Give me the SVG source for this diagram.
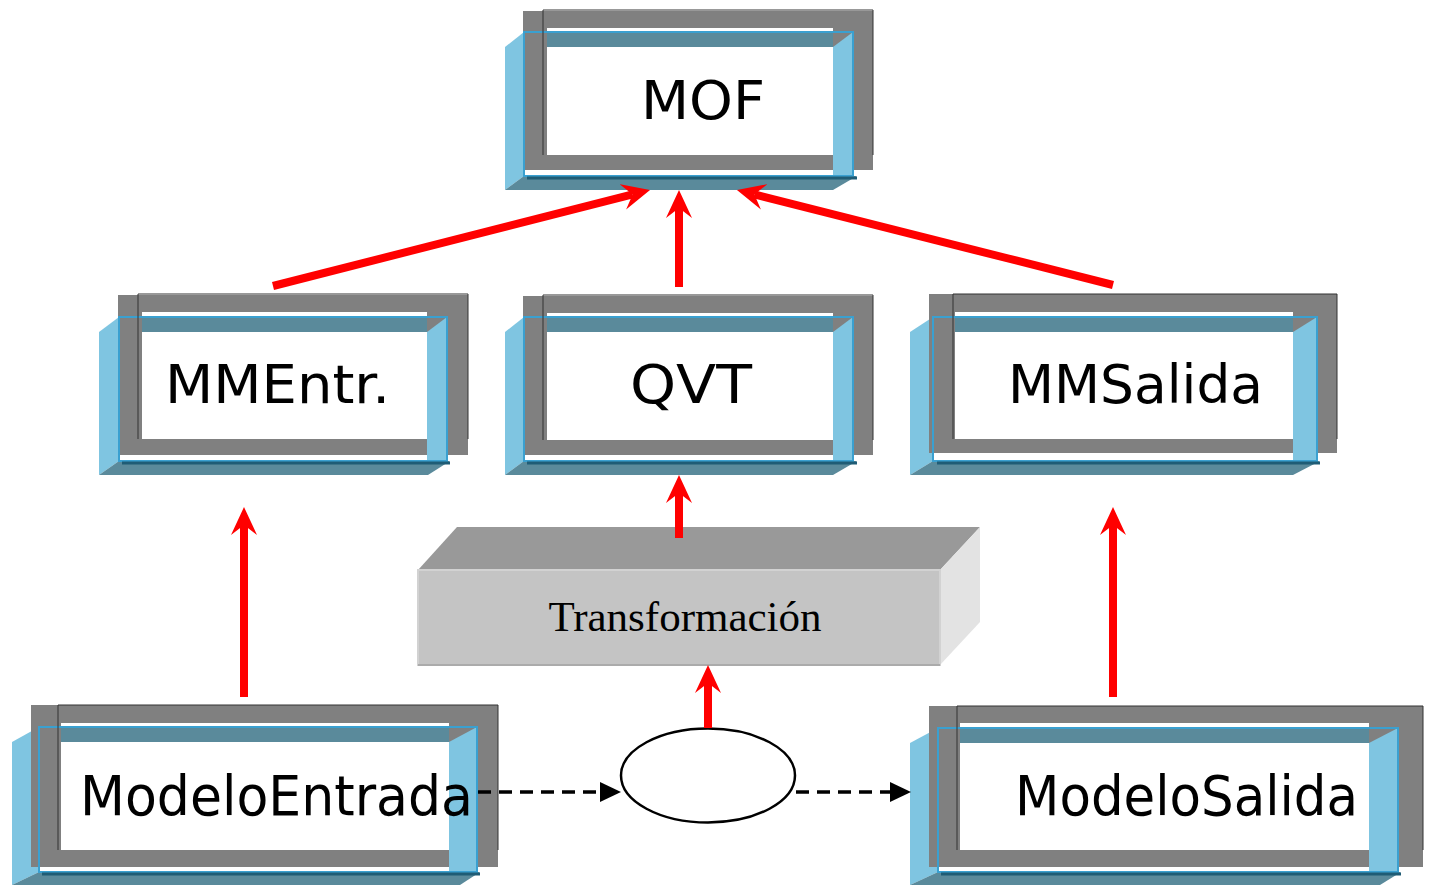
<svg xmlns="http://www.w3.org/2000/svg" width="1429" height="885" viewBox="0 0 1429 885">
<style>
.lb{fill:#7FC5E1}
.teal{fill:#5A8A9B}
.gray{fill:#808080;fill-rule:evenodd}
.bo{fill:none;stroke:#3AA0D0;stroke-width:2}
.dl{stroke:#1F5C75;stroke-width:3}
.thin{fill:none;stroke:#333;stroke-width:1}
.lbl{font-family:"DejaVu Sans","Liberation Sans",sans-serif;fill:#000}
.red{stroke:#FF0000;stroke-width:8;fill:none;marker-end:url(#ra)}
.dash{stroke:#000;stroke-width:3.5;stroke-dasharray:13 8;fill:none;marker-end:url(#ba)}
</style>
<defs>
<marker id="ra" markerUnits="userSpaceOnUse" viewBox="0 -14 30 28" markerWidth="30" markerHeight="28" refX="10" refY="0" orient="auto">
<path d="M0,-13 L28,0 L0,13 L10,0 Z" fill="#FF0000"/>
</marker>
<marker id="ba" markerUnits="userSpaceOnUse" viewBox="0 -11 22 22" markerWidth="22" markerHeight="22" refX="0" refY="0" orient="auto">
<path d="M0,-10 L21,0 L0,10 Z" fill="#000"/>
</marker>
</defs>
<rect width="1429" height="885" fill="#fff"/>

<g id="MOF">
<polygon class="lb" points="505,47 524,32 524,176 505,190"/>
<polygon class="teal" points="524,32 853,32 833,47 524,47"/>
<polygon class="teal" points="505,190 524,176 857,176 833,190"/>
<path class="gray" d="M523,11 H873 V170 H523 Z M547,28 V155 H833 V28 Z"/>
<polygon class="lb" points="833,47 853,32 853,176 833,176"/>
<rect class="bo" x="524" y="32" width="329" height="144"/>
<line class="dl" x1="527" y1="178" x2="857" y2="178"/>
<path class="thin" d="M543,155 V10 H873 V155"/>
<text class="lbl" x="641" y="119" font-size="54" textLength="124" lengthAdjust="spacingAndGlyphs">MOF</text>
</g>

<g id="MMEntr">
<polygon class="lb" points="99,332 119,317 119,461 99,475"/>
<polygon class="teal" points="119,317 447,317 427,332 119,332"/>
<polygon class="teal" points="99,475 119,461 450,461 428,475"/>
<path class="gray" d="M118,295 H468 V455 H118 Z M142,312 V439 H427 V312 Z"/>
<polygon class="lb" points="427,332 447,317 447,461 427,461"/>
<rect class="bo" x="119" y="317" width="328" height="144"/>
<line class="dl" x1="122" y1="463" x2="450" y2="463"/>
<path class="thin" d="M138,439 V294 H468 V439"/>
<text class="lbl" x="165" y="403" font-size="54" textLength="225" lengthAdjust="spacingAndGlyphs">MMEntr.</text>
</g>

<g id="QVT">
<polygon class="lb" points="505,332 524,317 524,461 505,475"/>
<polygon class="teal" points="524,317 853,317 833,332 524,332"/>
<polygon class="teal" points="505,475 524,461 857,461 833,475"/>
<path class="gray" d="M523,296 H873 V455 H523 Z M547,313 V440 H833 V313 Z"/>
<polygon class="lb" points="833,332 853,317 853,461 833,461"/>
<rect class="bo" x="524" y="317" width="329" height="144"/>
<line class="dl" x1="527" y1="463" x2="857" y2="463"/>
<path class="thin" d="M543,440 V295 H873 V440"/>
<text class="lbl" x="630" y="403" font-size="54" textLength="122" lengthAdjust="spacingAndGlyphs">QVT</text>
</g>

<g id="MMSalida">
<polygon class="lb" points="910,332 933,317 933,461 910,475"/>
<polygon class="teal" points="933,317 1317,317 1293,332 933,332"/>
<polygon class="teal" points="910,475 933,461 1320,461 1293,475"/>
<path class="gray" d="M929,294 H1337 V453 H929 Z M955,312 V439 H1293 V312 Z"/>
<polygon class="lb" points="1293,332 1317,317 1317,461 1293,461"/>
<rect class="bo" x="933" y="317" width="384" height="144"/>
<line class="dl" x1="937" y1="463" x2="1320" y2="463"/>
<path class="thin" d="M953,439 V294 H1337 V439"/>
<text class="lbl" x="1008" y="403" font-size="54" textLength="255" lengthAdjust="spacingAndGlyphs">MMSalida</text>
</g>

<g id="ModeloEntrada">
<polygon class="lb" points="12,742 39,727 39,872 12,885"/>
<polygon class="teal" points="39,727 477,727 449,742 39,742"/>
<polygon class="teal" points="12,885 39,872 480,872 460,885"/>
<path class="gray" d="M31,705 H498 V867 H31 Z M61,723 V850 H449 V723 Z"/>
<polygon class="lb" points="449,742 477,727 477,872 449,872"/>
<rect class="bo" x="39" y="727" width="438" height="145"/>
<line class="dl" x1="42" y1="874" x2="480" y2="874"/>
<path class="thin" d="M58,850 V705 H498 V850"/>
<text class="lbl" x="80" y="815" font-size="56" textLength="393" lengthAdjust="spacingAndGlyphs">ModeloEntrada</text>
</g>

<g id="ModeloSalida">
<polygon class="lb" points="910,743 938,728 938,872 910,885"/>
<polygon class="teal" points="938,728 1398,728 1369,743 938,743"/>
<polygon class="teal" points="910,885 938,872 1401,872 1380,885"/>
<path class="gray" d="M929,706 H1423 V867 H929 Z M960,723 V850 H1369 V723 Z"/>
<polygon class="lb" points="1369,743 1398,728 1398,872 1369,872"/>
<rect class="bo" x="938" y="728" width="460" height="144"/>
<line class="dl" x1="941" y1="874" x2="1401" y2="874"/>
<path class="thin" d="M957,850 V706 H1423 V850"/>
<text class="lbl" x="1015" y="815" font-size="56" textLength="343" lengthAdjust="spacingAndGlyphs">ModeloSalida</text>
</g>

<g id="Transformacion">
<polygon points="418,570 457,527 980,527 940,570" fill="#999999"/>
<polygon points="940,570 980,527 980,622 940,665" fill="#E3E3E3"/>
<rect x="418" y="570" width="522" height="95" fill="#C4C4C4" stroke="#D2D2D2" stroke-width="2"/>
<line x1="418" y1="665" x2="940" y2="665" stroke="#ABABAB" stroke-width="2"/>
<text x="685" y="631" font-size="43" text-anchor="middle" font-family="'Liberation Serif','Times New Roman',serif" fill="#000">Transformación</text>
</g>

<g id="Proceso">
<ellipse cx="708" cy="775.5" rx="87" ry="47" fill="#fff" stroke="#000" stroke-width="2.5"/>
</g>

<g id="connectors">
<line class="red" x1="273" y1="286" x2="632.6" y2="194.4"/>
<line class="red" x1="679" y1="287" x2="679" y2="208"/>
<line class="red" x1="1113" y1="285" x2="754.4" y2="194.4"/>
<line class="red" x1="679" y1="538" x2="679" y2="493"/>
<line class="red" x1="244" y1="697" x2="244" y2="525"/>
<line class="red" x1="1113" y1="697" x2="1113" y2="525"/>
<line class="red" x1="708" y1="728" x2="708" y2="683"/>
<line class="dash" x1="478" y1="792" x2="600" y2="792"/>
<line class="dash" x1="796" y1="792" x2="890" y2="792"/>
</g>
</svg>
